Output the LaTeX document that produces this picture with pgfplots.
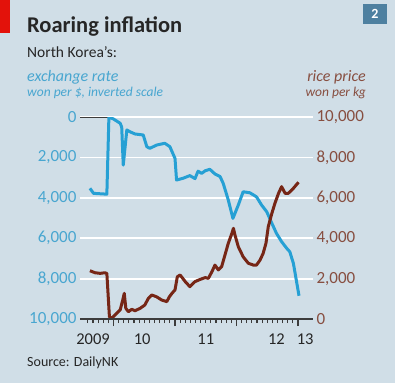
\documentclass[border=0pt]{standalone}
\usepackage{fontspec}
\setmainfont{Carlito}
\usepackage{pgfplots}
\pgfplotsset{compat=1.18}
\definecolor{bg}{RGB}{208,222,231}
\definecolor{exblue}{RGB}{38,160,212}
\definecolor{extxt}{RGB}{72,166,208}
\definecolor{ricered}{RGB}{118,38,22}
\definecolor{ricetxt}{RGB}{135,78,64}
\definecolor{ecored}{RGB}{227,18,11}
\definecolor{boxblue}{RGB}{78,128,160}
\definecolor{titlec}{RGB}{38,38,38}
\definecolor{axisc}{RGB}{60,60,60}
\begin{document}
\begin{tikzpicture}[x=1pt,y=1pt]
\fill[bg] (0,0) rectangle (395,-383);
\useasboundingbox (0,0) rectangle (395,-383);
\fill[ecored] (0,0) rectangle (10,-33);
\fill[boxblue] (363,-4) rectangle (387,-24);
\node[text=white, inner sep=0, font=\fontsize{14}{14}\selectfont\bfseries] at (375,-14) {2};
\node[anchor=base west, inner sep=0, text=titlec, font=\fontsize{22.5}{22.5}\selectfont\bfseries] at (27,-32) {Roaring inflation};
\node[anchor=base west, inner sep=0, text=titlec, font=\fontsize{15.5}{15.5}\selectfont] at (27,-57.5) {North Korea’s:};
\node[anchor=base west, inner sep=0, text=extxt, font=\fontsize{16}{16}\selectfont\itshape] at (27,-81) {exchange rate};
\node[anchor=base west, inner sep=0, text=extxt, font=\fontsize{13.5}{13.5}\selectfont\itshape] at (27,-96.7) {won per \$, inverted scale};
\node[anchor=base east, inner sep=0, text=ricetxt, font=\fontsize{16}{16}\selectfont\itshape] at (366,-81) {rice price};
\node[anchor=base east, inner sep=0, text=ricetxt, font=\fontsize{13.5}{13.5}\selectfont\itshape] at (366,-96.7) {won per kg};
\node[anchor=base west, inner sep=0, text=titlec, font=\fontsize{14}{14}\selectfont] at (27,-366) {Source: DailyNK};

\begin{axis}[at={(80pt,-319pt)}, anchor=south west, scale only axis,
  width=233pt, height=202pt,
  xmin=5.46, xmax=50.93, ymin=0, ymax=10000, y dir=reverse,
  hide x axis, axis y line*=left, y axis line style={draw=none},
  ytick={0,2000,...,8000}, major tick length=0pt,
  extra y ticks={10000}, extra y tick style={grid=none},
  ymajorgrids, major grid style={white, line width=1.8pt},
  yticklabel style={text=extxt, font=\fontsize{17}{17}\selectfont},
  /pgf/number format/assume math mode=true, /pgf/number format/1000 sep={,},
  scaled y ticks=false]
\draw[axisc, line width=1.1pt] (axis cs:5.46,0) -- (axis cs:11.1,0);
\addplot[exblue, line width=3pt, line join=round] coordinates {
(7.4,3530) (8.1,3780) (10.7,3820) (11.1,0) (12.0,100) (13.3,310) (13.6,500)
(13.9,2380) (14.6,640) (15.2,730) (16.2,840) (17.8,890) (18.5,1470) (19.1,1550)
(20.4,1390) (22.0,1300) (23.0,1470) (24.0,2050) (24.3,3120) (25.6,3030)
(26.9,2900) (27.9,3050) (28.5,2680) (29.2,2790) (29.9,2660) (30.8,2590)
(31.8,2820) (32.8,2950) (33.4,3280) (34.4,4110) (35.3,5020) (36.35,4360)
(37.3,3700) (38.6,3750) (39.9,3950) (40.9,4360) (41.9,4690) (42.9,5260)
(43.8,5760) (44.8,6170) (45.8,6500) (46.4,6670) (47.1,7240) (48.2,8850)
};
\end{axis}

\begin{axis}[at={(80pt,-319pt)}, anchor=south west, scale only axis,
  width=233pt, height=202pt,
  xmin=5.46, xmax=50.93, ymin=0, ymax=10000,
  hide x axis, axis y line*=right, y axis line style={draw=none},
  ytick={0,2000,...,10000}, major tick length=0pt,
  yticklabel style={text=ricetxt, font=\fontsize{17}{17}\selectfont},
  /pgf/number format/assume math mode=true, /pgf/number format/1000 sep={,},
  scaled y ticks=false]
\addplot[ricered, line width=3pt, line join=round] coordinates {
(7.4,2390) (8.4,2290) (9.4,2260) (10.3,2290) (10.7,2260) (11.2,110) (11.65,30)
(12.6,280) (13.3,450) (13.8,940) (14.1,1270) (14.4,530) (14.9,360) (15.55,480)
(16.2,410) (17.2,530) (18.1,690) (18.8,1020) (19.45,1190) (20.4,1100) (21.4,940)
(22.4,860) (22.9,1100) (23.4,1270) (24.0,1440) (24.45,2090) (25.0,2180)
(26.0,1850) (26.9,1600) (27.9,1850) (28.9,1960) (29.9,2050) (30.5,2010)
(31.2,2340) (31.8,2670) (32.45,2430) (33.1,2590) (33.75,3170) (34.4,3750)
(35.1,4240) (35.4,4490) (35.7,4160) (36.35,3580) (37.3,3080) (38.3,2760)
(39.3,2670) (39.9,2670) (40.6,2920) (41.2,3250) (41.75,3750) (42.2,4570)
(42.9,5230) (43.5,5730) (44.2,6220) (44.8,6550) (45.5,6220) (46.1,6220)
(47.1,6470) (48.1,6770)
};
\end{axis}

\begin{axis}[at={(80pt,-319pt)}, anchor=south west, scale only axis,
  width=233pt, height=202pt,
  xmin=5.46, xmax=50.93, ymin=0, ymax=10000,
  hide y axis, axis x line*=bottom,
  x axis line style={draw=axisc, line width=1.4pt, -},
  xtick={12,24,36,48}, minor xtick={7,...,48},
  tick align=outside, major tick length=7pt, minor tick length=4pt,
  xtick style={draw=axisc, line width=1.1pt},
  xticklabels={,,,},
  extra x ticks={8.0,17.6,30,43.8,49.4}, extra x tick labels={2009,10,11,12,13},
  extra x tick style={xtick style={draw=none}},
  xticklabel style={text=titlec, font=\fontsize{16.5}{16.5}\selectfont, yshift=-4pt},
  clip=false]
\pgfplotsinvokeforeach{7,...,48}{
  \draw[axisc, line width=1.1pt] (axis cs:#1,0) -- ++(0pt,-4pt);
}
\pgfplotsinvokeforeach{12,24,36,48}{
  \draw[axisc, line width=1.2pt] (axis cs:#1,0) -- ++(0pt,-7pt);
}
\draw[axisc, line width=1.4pt] (axis cs:5.46,0) -- (axis cs:50.2,0);
\end{axis}
\end{tikzpicture}
\end{document}
